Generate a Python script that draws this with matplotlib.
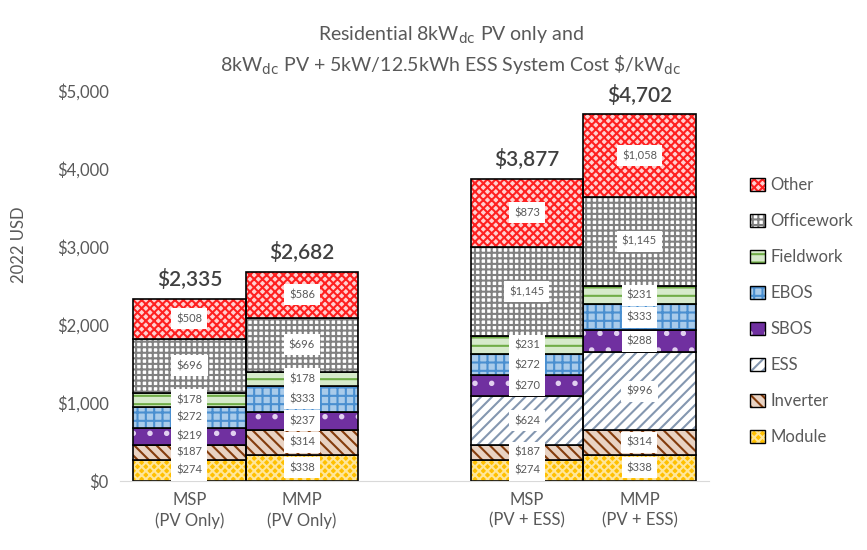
import numpy as np
import matplotlib
matplotlib.use("Agg")
import matplotlib.pyplot as plt
from matplotlib.patches import Patch
from matplotlib.legend_handler import HandlerTuple

plt.rcParams['font.family'] = ['Lato', 'DejaVu Sans']
plt.rcParams['hatch.linewidth'] = 1.5

# --- data ---
categories = ["MSP\n(PV Only)", "MMP\n(PV Only)", "MSP\n(PV + ESS)", "MMP\n(PV + ESS)"]
totals = [2335, 2682, 3877, 4702]

# stacked from bottom to top
components = ["Module", "Inverter", "ESS", "SBOS", "EBOS", "Fieldwork", "Officework", "Other"]
module = [274, 338, 274, 338]
inverter = [187, 314, 187, 314]
ess = [0, 0, 624, 996]
sbos = [219, 237, 270, 288]
ebos = [272, 333, 272, 333]
fieldwork = [178, 178, 231, 231]
officework = [696, 696, 1145, 1145]
other = [508, 586, 873, 1058]
values = [module, inverter, ess, sbos, ebos, fieldwork, officework, other]

# face colour, hatch colour, hatch pattern
styles = {
    "Module":     ('#FFC000', '#FFE699', 'xxxx'),
    "Inverter":   ('#E9D3C3', '#843C0C', '\\\\\\'),
    "ESS":        ('white', '#8497B0', '///'),
    "SBOS":       ('#7030A0', '#E2D0F0', '.'),
    "EBOS":       ('#A9CBEA', '#4A8FD0', '++'),
    "Fieldwork":  ('#D6EACB', '#70AD47', '--'),
    "Officework": ('white', '#808080', '+++'),
    "Other":      ('#FFD0D0', '#FF2020', 'xxxx'),
}

x = np.array([0, 1, 3, 4])
grey = '#595959'

fig = plt.figure(figsize=(8.67, 5.5), dpi=100)
ax = fig.add_axes([0.138, 0.1255, 0.68, 0.709])

bottom = np.zeros(len(x))
for name, vals in zip(components, values):
    vals = np.array(vals, dtype=float)
    face, hcol, hatch = styles[name]
    ax.bar(x, vals, width=1.0, bottom=bottom, color=face, edgecolor=hcol,
           hatch=hatch, linewidth=0)
    ax.bar(x, vals, width=1.0, bottom=bottom, fill=False, edgecolor='black',
           linewidth=1.2)
    for xi, v, b0 in zip(x, vals, bottom):
        if v > 0:
            ax.text(xi, b0 + v / 2, f"${int(v):,}", ha='center', va='center',
                    fontsize=8, color=grey,
                    bbox=dict(boxstyle='square,pad=0.45', fc='white', ec='none'))
    bottom += vals

for xi, t in zip(x, totals):
    ax.text(xi, t + 110, f"${t:,}", ha='center', va='bottom', fontsize=15,
            color='#404040', fontweight='semibold')

ax.set_xlim(-0.62, 4.62)
ax.set_ylim(0, 5000)
ax.set_xticks(x)
ax.set_xticklabels(categories, fontsize=12, color=grey, linespacing=1.35)
ax.set_yticks(np.arange(0, 5001, 1000))
ax.set_yticklabels([f"${v:,}" for v in range(0, 5001, 1000)], fontsize=12, color=grey)
ax.tick_params(axis='both', length=0, pad=8)
for s in ['top', 'right', 'left']:
    ax.spines[s].set_visible(False)
ax.spines['bottom'].set_color('#D9D9D9')

fig.text(0.022, 0.555, "2022 USD", rotation=90, ha='center', va='center',
         fontsize=12, color=grey)

fig.text(0.52, 0.955,
         "Residential 8kW$_{\\mathrm{dc}}$ PV only and\n"
         "8kW$_{\\mathrm{dc}}$ PV + 5kW/12.5kWh ESS System Cost \\$/kW$_{\\mathrm{dc}}$",
         ha='center', va='top', fontsize=14, color=grey, linespacing=1.4)

# legend: hatch patch with a black outline on top
order = ["Other", "Officework", "Fieldwork", "EBOS", "SBOS", "ESS", "Inverter", "Module"]
leg_handles = []
for n in order:
    face, hcol, hatch = styles[n]
    leg_handles.append((Patch(facecolor=face, edgecolor=hcol, hatch=hatch, linewidth=0),
                        Patch(fill=False, edgecolor='black', linewidth=1.0)))
fig.legend(leg_handles, order, loc='upper left',
           bbox_to_anchor=(0.848, 0.705), frameon=False, fontsize=12,
           handlelength=0.9, handleheight=0.9, handletextpad=0.3,
           labelspacing=1.2, labelcolor=grey,
           handler_map={tuple: HandlerTuple(ndivide=1, pad=0)})

fig.savefig("out.png", dpi=100)
